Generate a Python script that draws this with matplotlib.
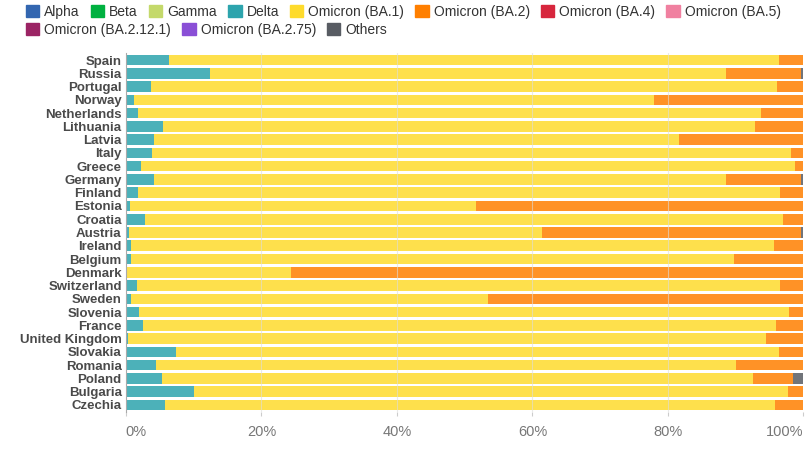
import numpy as np
import matplotlib.pyplot as plt
from matplotlib.patches import Patch

plt.rcParams['font.family'] = ['Liberation Sans', 'DejaVu Sans']

countries = ["Spain", "Russia", "Portugal", "Norway", "Netherlands", "Lithuania", "Latvia",
             "Italy", "Greece", "Germany", "Finland", "Estonia", "Croatia", "Austria",
             "Ireland", "Belgium", "Denmark", "Switzerland", "Sweden", "Slovenia", "France",
             "United Kingdom", "Slovakia", "Romania", "Poland", "Bulgaria", "Czechia"]

# share of sequences (%)
delta = [6.4, 12.4, 3.7, 1.2, 1.8, 5.5, 4.2, 3.9, 2.2, 4.1, 1.8, 0.6, 2.8, 0.5,
         0.7, 0.8, 0.2, 1.6, 0.8, 1.9, 2.6, 0.3, 7.4, 4.4, 5.3, 10.1, 5.8]
ba1 = [90.0, 76.1, 92.4, 76.7, 92.0, 87.4, 77.5, 94.2, 96.6, 84.5, 94.8, 51.0, 94.2, 60.9,
       94.9, 88.9, 24.1, 95.0, 52.6, 95.9, 93.4, 94.2, 89.0, 85.7, 87.2, 87.6, 90.0]
ba2 = [3.6, 11.2, 3.9, 22.1, 6.2, 7.1, 18.3, 1.9, 1.2, 11.1, 3.4, 48.4, 3.0, 38.2,
       4.4, 10.3, 75.7, 3.4, 46.6, 2.2, 4.0, 5.5, 3.6, 9.9, 6.0, 2.3, 4.1]
others = [0, 0.3, 0, 0, 0, 0, 0, 0, 0, 0.3, 0, 0, 0, 0.4,
          0, 0, 0, 0, 0, 0, 0, 0, 0, 0, 1.5, 0, 0.1]

legend_names = ["Alpha", "Beta", "Gamma", "Delta", "Omicron (BA.1)", "Omicron (BA.2)",
                "Omicron (BA.4)", "Omicron (BA.5)", "Omicron (BA.2.12.1)",
                "Omicron (BA.2.75)", "Others"]
legend_colors = ["#3366b0", "#00b140", "#c4d96b", "#2da4ad", "#fedb2c", "#ff7f00",
                 "#d7263d", "#f080a0", "#9b2464", "#8a4fd6", "#585c63"]
col = dict(zip(legend_names, legend_colors))

fig = plt.figure(figsize=(8.12, 4.51), dpi=100)
ax = fig.add_axes([0.155, 0.0874, 0.8345, 0.7942])

y = np.arange(len(countries))
left = np.zeros(len(countries))
for name, vals in [("Delta", delta), ("Omicron (BA.1)", ba1),
                   ("Omicron (BA.2)", ba2), ("Others", others)]:
    vals = np.array(vals)
    ax.barh(y, vals, left=left, height=0.8, color=col[name], alpha=0.85, linewidth=0)
    left += vals

ax.set_xlim(0, 100)
ax.set_ylim(len(countries) - 0.5, -0.5)
ax.set_yticks(y)
ax.set_yticklabels(countries, fontsize=9.5, fontweight='bold', color='#4a4a4a')
ax.set_xticks([0, 20, 40, 60, 80, 100])
ax.set_xticklabels(["0%", "20%", "40%", "60%", "80%", "100%"], fontsize=10.5, color='#777777')
xt = ax.get_xticklabels()
xt[0].set_horizontalalignment('left')
xt[-1].set_horizontalalignment('right')
ax.tick_params(axis='y', length=0, pad=3)
ax.tick_params(axis='x', length=3, color='#cccccc', pad=7)
for x in [20, 40, 60, 80]:
    ax.axvline(x, color='#dddddd', lw=0.8, alpha=0.6, zorder=3)
for s in ['top', 'right', 'bottom']:
    ax.spines[s].set_visible(False)
ax.spines['left'].set_color('#aaaaaa')

handles = [Patch(color=c, label=n) for n, c in zip(legend_names, legend_colors)]
kw = dict(loc='upper left', frameon=False, fontsize=10, handlelength=0.97,
          handleheight=0.97, handletextpad=0.35, columnspacing=0.8, borderaxespad=0,
          borderpad=0, labelcolor='#333333')
fig.legend(handles=handles[:8], ncol=8, bbox_to_anchor=(0.032, 0.99), **kw)
fig.legend(handles=handles[8:], ncol=3, bbox_to_anchor=(0.032, 0.95), **kw)

fig.savefig("out.png", dpi=100)
